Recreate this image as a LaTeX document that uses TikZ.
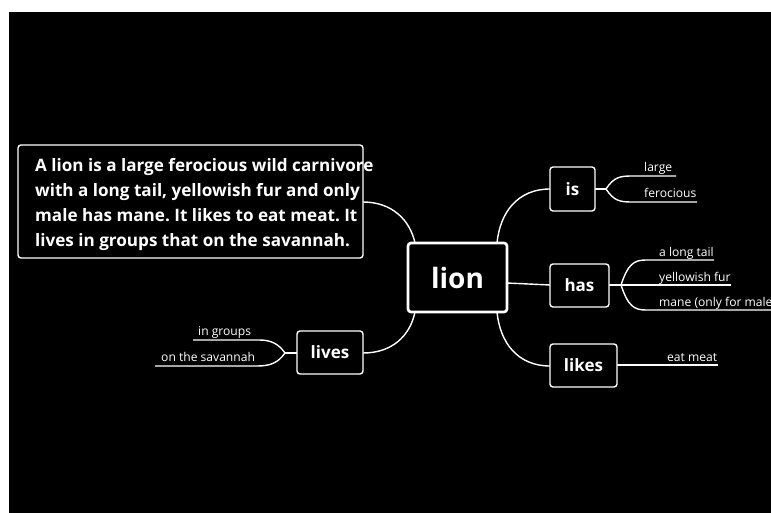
\documentclass[tikz,border=0pt]{standalone}
\usepackage{fontspec}
\setmainfont{Open Sans}
\frenchspacing
\begin{document}
\begin{tikzpicture}[x=1pt,y=-1pt,
  conn/.style={draw=white,line width=1.4pt},
  box/.style={draw=white,line width=1.4pt,rounded corners=3pt,fill=black,text=white,font=\bfseries\fontsize{17}{20}\selectfont,inner sep=0pt},
  leaf/.style={text=white,font=\fontsize{12.1}{14}\selectfont,inner sep=0pt,anchor=base west}]
\useasboundingbox (0,0) rectangle (771,513);
\fill[white] (0,0) rectangle (771,513);
\fill[black] (9,12) rectangle (771,513);
\begin{scope}
\clip (9,12) rectangle (771,513);
% connectors behind boxes
\coordinate (lionNE) at (497,243);
\coordinate (lionNW) at (415,243);
\coordinate (lionSE) at (497,312);
\coordinate (lionSW) at (415,312);
\coordinate (lionE) at (507,283);
\coordinate (descE) at (363,202);
\coordinate (livesE) at (363,353);
\coordinate (isW) at (550,189);
\coordinate (hasW) at (550,285);
\coordinate (likesW) at (550,366);
\draw[conn] (lionNE) .. controls (500,212) and (518,189) .. (isW);
\draw[conn] (lionE) -- (hasW);
\draw[conn] (lionSE) .. controls (500,343) and (518,366) .. (likesW);
\draw[conn] (lionNW) .. controls (410,220) and (392,202) .. (descE);
\draw[conn] (lionSW) .. controls (410,336) and (392,353) .. (livesE);
% is branches
\coordinate (isB) at (606,189);
\coordinate (largeS) at (632,176);
\coordinate (largeE) at (676,176);
\coordinate (ferS) at (632,202);
\coordinate (ferE) at (697,202);
\draw[conn] (594,189) -- (isB);
\draw[conn] (isB) .. controls (614,177) and (620,176) .. (largeS) -- (largeE);
\draw[conn] (isB) .. controls (614,201) and (620,202) .. (ferS) -- (ferE);
% has branches
\coordinate (hasB) at (621,285);
\coordinate (tailS) at (646,260);
\coordinate (tailE) at (714,260);
\coordinate (furE) at (731,285);
\coordinate (maneS) at (646,310);
\coordinate (maneE) at (775,310);
\draw[conn] (609,285) -- (hasB);
\draw[conn] (hasB) .. controls (628,264) and (634,260) .. (tailS) -- (tailE);
\draw[conn] (hasB) -- (furE);
\draw[conn] (hasB) .. controls (628,306) and (634,310) .. (maneS) -- (maneE);
% likes branch
\coordinate (meatE) at (718,365);
\draw[conn] (617,365) -- (meatE);
% lives branches
\coordinate (livesB) at (285,353);
\coordinate (grpS) at (259,340);
\coordinate (grpE) at (193,340);
\coordinate (savS) at (257,366);
\coordinate (savE) at (155,366);
\draw[conn] (297,353) -- (livesB);
\draw[conn] (livesB) .. controls (278,343) and (270,340) .. (grpS) -- (grpE);
\draw[conn] (livesB) .. controls (278,363) and (270,366) .. (savS) -- (savE);
% boxes
\node[box,minimum width=99pt,minimum height=69pt,line width=2.6pt,font=\bfseries\fontsize{28}{32}\selectfont] (lion) at (457.5,277.5) {lion};
\node[box,minimum width=45pt,minimum height=44pt] (is) at (572.5,189) {is};
\node[box,minimum width=59pt,minimum height=43pt] (has) at (579.5,285.5) {has};
\node[box,minimum width=67pt,minimum height=43pt] (likes) at (583.5,365.5) {likes};
\node[box,minimum width=66pt,minimum height=43pt] (lives) at (330,352.5) {lives};
\node[box,minimum width=345pt,minimum height=113pt] (desc) at (190.5,201.5) {};
\node[text=white,font=\bfseries\fontsize{17.1}{25}\selectfont,align=left,anchor=base west,inner sep=0pt] (desctext) at (35,246.7)
 {A lion is a large ferocious wild carnivore\\with a long tail, yellowish fur and only\\male has mane. It likes to eat meat. It\\lives in groups that on the savannah.};
% leaf labels
\node[leaf] (large) at (644,172) {large};
\node[leaf] (ferocious) at (644,198) {ferocious};
\node[leaf] (tail) at (659,256) {a long tail};
\node[leaf] (fur) at (659,281) {yellowish fur};
\node[leaf] (mane) at (659,306) {mane (only for male)};
\node[leaf] (meat) at (667,361) {eat meat};
\node[leaf] (groups) at (198,335.5) {in groups};
\node[leaf] (savannah) at (161,361.5) {on the savannah};
\end{scope}
\end{tikzpicture}
\end{document}
